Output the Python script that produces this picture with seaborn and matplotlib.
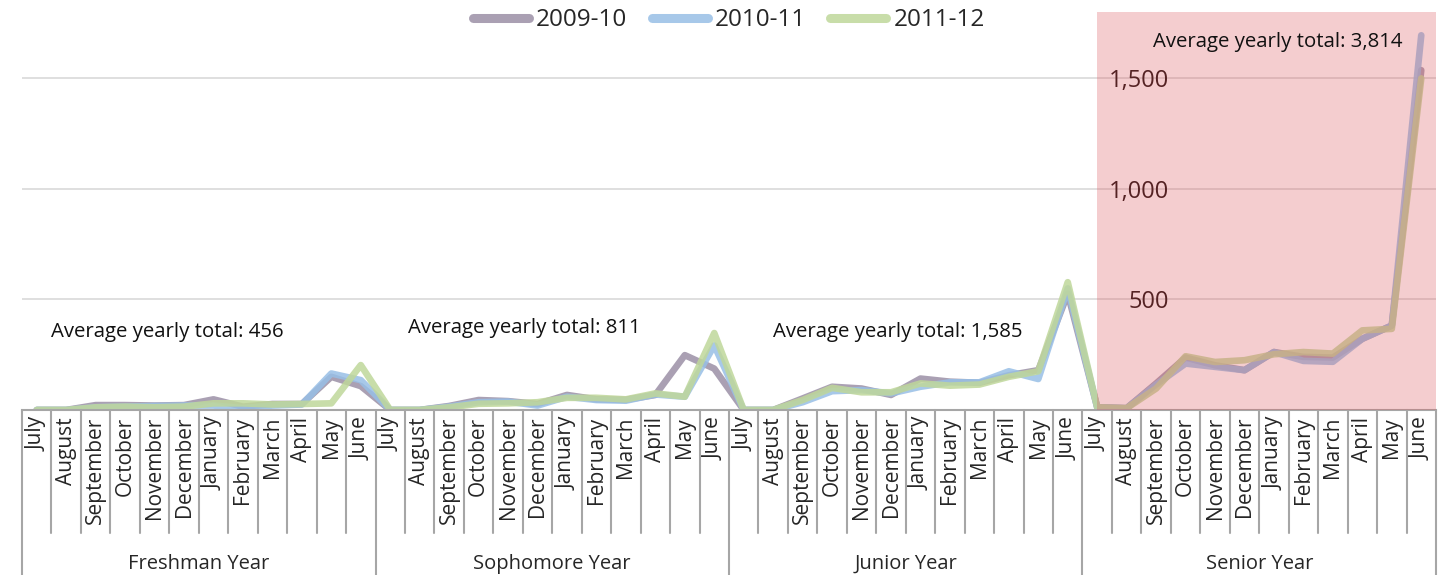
import pandas as pd
import seaborn as sns
import matplotlib.pyplot as plt
from matplotlib import font_manager

# month labels repeated for each school year
months = ["July", "August", "September", "October", "November", "December",
          "January", "February", "March", "April", "May", "June"]
years = ["Freshman Year", "Sophomore Year", "Junior Year", "Senior Year"]
series = ["2009-10", "2010-11", "2011-12"]
totals = ["456", "811", "1,585", "3,814"]

# values, freshman july -> senior june
v2009 = [0, 0, 22, 22, 20, 22, 48, 15, 27, 27, 150, 108,
         0, 0, 18, 45, 40, 27, 68, 48, 46, 68, 248, 187,
         0, 0, 52, 105, 97, 68, 142, 128, 123, 157, 180, 526,
         12, 8, 120, 237, 202, 180, 262, 240, 237, 322, 382, 1537]
v2010 = [0, 0, 12, 15, 18, 20, 20, 8, 20, 25, 165, 135,
         0, 0, 15, 35, 38, 20, 60, 45, 42, 70, 60, 292,
         0, 0, 35, 85, 90, 75, 105, 125, 125, 175, 140, 550,
         12, 8, 115, 210, 195, 180, 262, 222, 218, 322, 382, 1695]
v2011 = [0, 0, 12, 15, 12, 15, 30, 30, 25, 27, 30, 203,
         0, 0, 12, 28, 30, 35, 55, 55, 48, 75, 60, 348,
         0, 0, 45, 100, 80, 80, 120, 110, 115, 150, 175, 578,
         12, 8, 97, 243, 217, 225, 252, 262, 255, 360, 367, 1500]

palette = {"2009-10": "#9B90A6", "2010-11": "#98BFE6", "2011-12": "#BFD79A"}

rows = []
for name, vals in zip(series, [v2009, v2010, v2011]):
    for i, v in enumerate(vals):
        rows.append({"idx": i, "value": v, "series": name})
df = pd.DataFrame(rows)

sns.set_style("white")
available = {f.name for f in font_manager.fontManager.ttflist}
plt.rcParams['font.family'] = ['Open Sans', 'DejaVu Sans']
legend_font = 'Liberation Sans Narrow' if 'Liberation Sans Narrow' in available else 'Open Sans'
legend_size = 20 if legend_font == 'Liberation Sans Narrow' else 17.5

fig = plt.figure(figsize=(14.48, 5.75), dpi=100)
ax = fig.add_axes([0.0152, 0.287, 0.9765, 0.692])

sns.lineplot(data=df, x="idx", y="value", hue="series", palette=palette,
             linewidth=4.8, alpha=0.85, ax=ax, legend=True,
             solid_capstyle="round", solid_joinstyle="round")

n = len(v2009)
ax.set_xlim(-0.5, n - 0.5)
ax.set_ylim(0, 1800)

# senior year shaded overlay (drawn on top of the lines)
ax.axvspan(36, n - 0.5, ymin=0, ymax=1, color="#DC5A60", alpha=0.3, lw=0, zorder=5)

# gridlines
for yv in [500, 1000, 1500]:
    ax.axhline(yv, color="#D9D9D9", lw=1.2, zorder=0)

# y axis crossing inside senior year
ax.spines['left'].set_position(('data', 38.5))
ax.spines['left'].set_visible(False)
for s in ['right', 'top']:
    ax.spines[s].set_visible(False)
ax.spines['bottom'].set_color("#A6A6A6")
ax.spines['bottom'].set_linewidth(1.5)
ax.set_yticks([500, 1000, 1500])
ax.set_yticklabels(["500", "1,000", "1,500"], fontsize=17, color="#1A0A0A")
ax.tick_params(axis='y', length=0, pad=1)

# month tick labels
ax.set_xticks(range(n))
ax.set_xticklabels(months * 4, rotation=90, fontsize=15)
ax.tick_params(axis='x', length=0, pad=5)
ax.set_xlabel("")
ax.set_ylabel("")

# category dividers
trans = ax.get_xaxis_transform()
for k in range(n + 1):
    bottom = -0.415 if k % 12 == 0 else -0.309
    ax.plot([k - 0.5, k - 0.5], [0, bottom], transform=trans, color="#A6A6A6",
            lw=1.5, clip_on=False)
for j, name in enumerate(years):
    ax.text(12 * j + 5.5, -0.386, name, transform=trans, ha="center",
            va="center", fontsize=14.5)

# yearly total annotations
ann_x = [0.5, 12.6, 25.0, 37.9]
ann_y = [355, 370, 355, 1665]
for x, y, t in zip(ann_x, ann_y, totals):
    ax.text(x, y, "Average yearly total: " + t, ha="left", va="center",
            fontsize=14.7, color="#111111", zorder=6)

handles, labels = ax.get_legend_handles_labels()
for h in handles:
    h.set_linewidth(6.5)
    h.set_solid_capstyle("round")
ax.legend(handles, labels, loc="upper center", bbox_to_anchor=(0.5, 1.01),
          ncol=3, frameon=False, handlelength=2.3, columnspacing=1.0,
          handletextpad=0.3, borderpad=0, borderaxespad=0,
          prop={'family': legend_font, 'size': legend_size})

fig.savefig("out.png", dpi=100)
